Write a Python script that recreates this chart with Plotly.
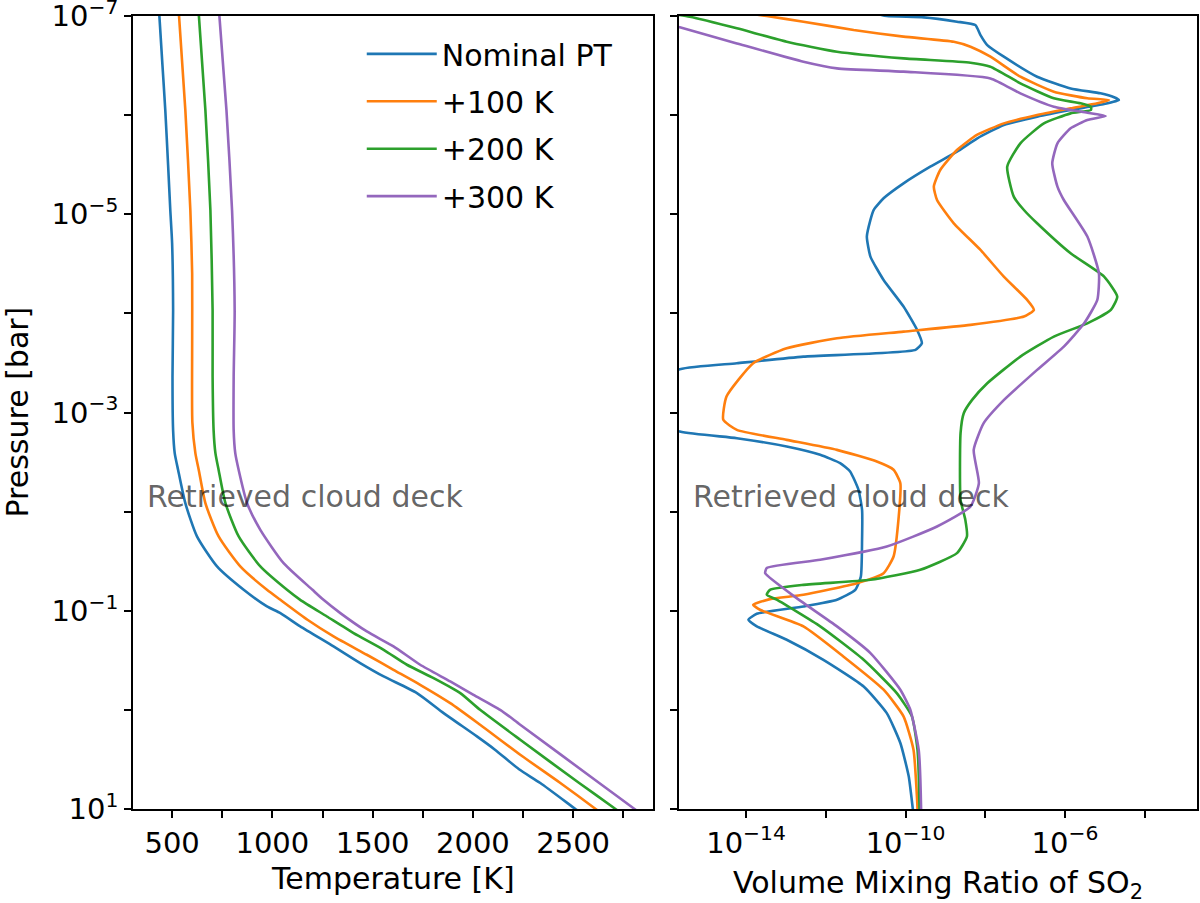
import numpy as np
import plotly.graph_objects as go

# ---------------- data ----------------
series_names = ["Nominal PT", "+100 K", "+200 K", "+300 K"]
colors = ["#1f77b4", "#ff7f0e", "#2ca02c", "#9467bd"]

# Left panel: temperature profiles (log10 pressure [bar], temperature [K])
logp_T_nominal = [-7.05, -6.5, -6.05, -5.5, -5.04, -4.71, -4.03, -3.36, -2.82, -2.59, -2.42, -2.085,
                  -1.75, -1.447, -1.211, -1.043, -0.976, -0.842, -0.64, -0.472, -0.337, -0.169,
                  0.033, 0.268, 0.402, 0.6, 0.738, 1.0, 1.02]
T_nominal = [435, 452, 466, 480, 491, 500, 505, 502, 505, 513, 530, 566,
             624, 724, 857, 973, 1040, 1139, 1305, 1438, 1555, 1721,
             1854, 2020, 2110, 2230, 2336, 2511, 2525]

logp_T_100 = [-7.05, -6.05, -5.04, -4.4, -3.7, -2.9, -2.59, -2.42, -2.085, -1.749, -1.447, -1.211,
              -1.11, -0.909, -0.741, -0.556, -0.404, -0.253, -0.068, 0.15, 0.453, 0.738, 1.0, 1.02]
T_100 = [533, 566, 591, 600, 600, 601, 616, 633, 666, 732, 840, 973,
         1040, 1175, 1305, 1471, 1604, 1737, 1887, 2036, 2236, 2436, 2612, 2625]

logp_T_200 = [-7.05, -6.05, -5.04, -4.03, -3.36, -2.82, -2.59, -2.42, -2.085, -1.749, -1.447, -1.211,
              -1.11, -0.942, -0.774, -0.606, -0.455, -0.32, -0.169, 0.0, 0.302, 0.738, 1.0, 1.02]
T_200 = [632, 666, 691, 702, 702, 707, 716, 732, 766, 832, 940, 1073,
         1139, 1272, 1405, 1555, 1671, 1804, 1937, 2036, 2236, 2530, 2711, 2724]

logp_T_300 = [-7.05, -6.05, -5.04, -4.03, -3.36, -2.82, -2.59, -2.42, -2.085, -1.816, -1.48, -1.211,
              -1.11, -0.976, -0.791, -0.64, -0.455, -0.287, -0.152, 0.0, 0.15, 0.738, 1.0, 1.02]
T_300 = [734, 771, 799, 812, 807, 807, 815, 832, 874, 940, 1056, 1200,
         1255, 1339, 1471, 1604, 1737, 1887, 2003, 2136, 2236, 2630, 2806, 2819]

# Right panel: SO2 volume mixing ratio (log10 pressure [bar], log10 VMR)
logp_V_nominal = [-7.03, -7.0, -6.987, -6.943, -6.909, -6.808, -6.707, -6.59, -6.388, -6.27, -6.22, -6.18,
                  -6.153, -6.112, -6.052, -5.985, -5.901, -5.766, -5.632, -5.48, -5.312, -5.161, -5.043,
                  -4.943, -4.775, -4.573, -4.337, -4.069, -3.833, -3.699, -3.632, -3.564, -3.497, -3.437,
                  -3.1, -2.808, -2.741, -2.657, -2.573, -2.489, -2.405, -2.22, -2.018, -1.715, -1.346,
                  -1.211, -1.111, -1.043, -0.969, -0.909, -0.842, -0.707, -0.505, -0.236, 0.033, 0.335,
                  0.671, 0.99, 1.02]
logV_nominal = [-10.8, -10.47, -9.54, -8.71, -8.25, -8.12, -7.95, -7.535, -6.70, -5.86, -5.11, -4.77,
                -4.65, -5.02, -5.86, -6.70, -7.535, -8.20, -8.71, -9.38, -10.05, -10.55, -10.80,
                -10.88, -10.97, -10.88, -10.55, -10.05, -9.71, -9.59, -9.75, -12.56, -14.23, -15.66,
                -17.5, -15.66, -14.23, -12.98, -12.14, -11.64, -11.39, -11.18, -11.09, -11.09, -11.12,
                -11.26, -11.72, -12.56, -13.73, -13.94, -13.73, -12.98, -12.06, -11.05, -10.47, -10.13,
                -9.92, -9.82, -9.81]

logp_V_100 = [-7.03, -7.0, -6.943, -6.859, -6.792, -6.741, -6.691, -6.59, -6.388, -6.237, -6.17, -6.153,
              -6.119, -6.069, -6.001, -5.917, -5.80, -5.648, -5.447, -5.279, -5.144, -4.909, -4.64,
              -4.371, -4.136, -4.035, -3.968, -3.884, -3.816, -3.749, -3.648, -3.497, -3.161, -2.926,
              -2.825, -2.724, -2.623, -2.505, -2.422, -2.287, -1.951, -1.547, -1.379, -1.278, -1.161,
              -1.117, -1.06, -1.01, -0.842, -0.539, -0.203, 0.066, 0.402, 0.99, 1.02]
logV_100 = [-14.0, -13.48, -12.56, -11.30, -10.05, -8.79, -8.37, -7.87, -7.12, -6.28, -5.44, -4.90,
            -5.19, -5.86, -6.70, -7.535, -8.21, -8.71, -9.13, -9.29, -9.21, -8.79, -8.12,
            -7.535, -6.95, -6.78, -7.03, -8.37, -10.05, -11.72, -12.98, -13.82, -14.49, -14.57,
            -14.23, -12.98, -11.72, -10.72, -10.30, -10.13, -10.17, -10.30, -10.55, -11.22, -12.56,
            -13.40, -13.82, -13.65, -12.56, -11.56, -10.55, -10.05, -9.80, -9.70, -9.70]

logp_V_200 = [-7.03, -6.993, -6.876, -6.741, -6.64, -6.573, -6.529, -6.489, -6.321, -6.17, -6.119, -6.085,
              -6.052, -6.018, -5.917, -5.716, -5.48, -5.178, -5.043, -4.909, -4.606, -4.371, -4.169,
              -4.035, -3.9, -3.766, -3.564, -3.295, -3.127, -2.993, -2.791, -2.119, -1.917, -1.749,
              -1.581, -1.413, -1.312, -1.261, -1.211, -1.161, -1.111, -0.842, -0.505, -0.169, 0.066,
              0.402, 0.99, 1.02]
logV_200 = [-16.0, -15.41, -14.23, -12.98, -11.72, -10.05, -8.37, -7.87, -7.12, -6.28, -5.61, -5.35,
            -5.35, -5.86, -6.53, -7.12, -7.45, -7.285, -7.03, -6.70, -5.86, -5.02, -4.69,
            -4.85, -5.44, -6.28, -7.12, -7.95, -8.33, -8.54, -8.62, -8.62, -8.50, -8.46,
            -8.71, -9.63, -10.88, -12.56, -13.40, -13.48, -13.23, -12.14, -11.05, -10.22, -9.84,
            -9.70, -9.65, -9.65]

logp_V_300 = [-6.95, -6.886, -6.724, -6.539, -6.472, -6.439, -6.371, -6.22, -6.085, -6.025, -5.991,
              -5.951, -5.867, -5.716, -5.514, -5.279, -5.144, -4.775, -4.405, -4.136, -3.9, -3.665,
              -3.43, -3.127, -2.892, -2.623, -2.287, -2.052, -1.85, -1.648, -1.514, -1.43, -1.379,
              -1.127, -0.842, -0.573, -0.203, -0.001, 0.402, 0.99, 1.02]
logV_300 = [-16.3, -15.66, -14.23, -12.56, -11.72, -10.05, -7.87, -7.12, -6.28, -5.44, -4.98,
            -5.44, -5.86, -6.19, -6.32, -6.19, -6.03, -5.44, -5.15, -5.19, -5.52, -6.03,
            -6.70, -7.53, -8.04, -8.29, -8.16, -8.37, -9.21, -10.47, -12.14, -13.48, -13.52,
            -12.73, -11.72, -10.88, -10.13, -9.88, -9.67, -9.61, -9.61]

cloud_deck_logp = -2.422
cloud_label = "Retrieved cloud deck"

# ticks
p_tickvals = [1e-7, 1e-6, 1e-5, 1e-4, 1e-3, 1e-2, 1e-1, 1e0, 1e1]
p_ticktext = ["10<sup>\u22127</sup>", "", "10<sup>\u22125</sup>", "", "10<sup>\u22123</sup>", "",
              "10<sup>\u22121</sup>", "", "10<sup>1</sup>"]
T_tickvals = [500, 750, 1000, 1250, 1500, 1750, 2000, 2250, 2500, 2750]
T_ticktext = ["500", "", "1000", "", "1500", "", "2000", "", "2500", ""]
V_tickvals = [1e-14, 1e-12, 1e-10, 1e-8, 1e-6, 1e-4]
V_ticktext = ["10<sup>\u221214</sup>", "", "10<sup>\u221210</sup>", "", "10<sup>\u22126</sup>", ""]

# ---------------- figure ----------------
FONT = "DejaVu Sans"
fig = go.Figure()

T_sets = [(logp_T_nominal, T_nominal), (logp_T_100, T_100), (logp_T_200, T_200), (logp_T_300, T_300)]
V_sets = [(logp_V_nominal, logV_nominal), (logp_V_100, logV_100), (logp_V_200, logV_200), (logp_V_300, logV_300)]

for i, (lp, T) in enumerate(T_sets):
    fig.add_trace(go.Scatter(
        x=T, y=10 ** np.array(lp), mode="lines", name=series_names[i],
        line=dict(color=colors[i], width=2.6, shape="spline", smoothing=0.6),
        legendgroup=series_names[i], xaxis="x", yaxis="y"))
for i, (lp, lv) in enumerate(V_sets):
    fig.add_trace(go.Scatter(
        x=10 ** np.array(lv), y=10 ** np.array(lp), mode="lines", name=series_names[i],
        line=dict(color=colors[i], width=2.6, shape="spline", smoothing=0.5),
        legendgroup=series_names[i], showlegend=False, xaxis="x2", yaxis="y2"))

axis_common = dict(showline=True, mirror=True, linecolor="black", linewidth=1.6,
                   ticks="outside", ticklen=7, tickwidth=1.6, tickcolor="black",
                   showgrid=False, zeroline=False, ticklabeloverflow="allow",
                   automargin=False,
                   tickfont=dict(family=FONT, size=29, color="black"))

y_range = [1.0004, -7.0004]

fig.update_layout(
    width=1200, height=903,
    margin=dict(l=133, r=3, t=16, b=94, autoexpand=False),
    paper_bgcolor="white", plot_bgcolor="white",
    font=dict(family=FONT, size=30, color="black"),
    xaxis=dict(domain=[0, 0.4887], range=[305, 2898], tickmode="array",
               tickvals=T_tickvals, ticktext=T_ticktext, anchor="y", **axis_common),
    xaxis2=dict(domain=[0.5132, 1], type="log", range=[-15.68, -2.69], tickmode="array",
                tickvals=V_tickvals, ticktext=V_ticktext, anchor="y2", **axis_common),
    yaxis=dict(type="log", range=y_range, tickmode="array", tickvals=p_tickvals,
               ticktext=p_ticktext, anchor="x", **axis_common),
    yaxis2=dict(type="log", range=y_range, matches="y", tickmode="array", tickvals=p_tickvals,
                showticklabels=False, anchor="x2", **axis_common),
    legend=dict(x=0.2150, y=0.985, xanchor="left", yanchor="top",
                bgcolor="rgba(0,0,0,0)", borderwidth=0,
                font=dict(family=FONT, size=30, color="black"),
                tracegroupgap=5.4, itemwidth=70),
    showlegend=True,
)

# cloud deck lines
for xr, yr in [("x domain", "y"), ("x2 domain", "y2")]:
    fig.add_shape(type="line", xref=xr, yref=yr, x0=0, x1=1,
                  y0=cloud_deck_logp, y1=cloud_deck_logp,
                  line=dict(color="#808080", width=3), layer="above")
    fig.add_annotation(xref=xr, yref=yr, x=0, xshift=12, xanchor="left",
                       y=cloud_deck_logp + 0.27, yanchor="middle", showarrow=False,
                       text=cloud_label,
                       font=dict(family=FONT, size=30, color="rgba(0,0,0,0.62)"))

# axis titles
fig.add_annotation(xref="paper", yref="paper", x=0.24435, xanchor="center", y=0, yanchor="top",
                   yshift=-50, showarrow=False, text="Temperature [K]",
                   font=dict(family=FONT, size=30, color="black"))
fig.add_annotation(xref="paper", yref="paper", x=0.7566, xanchor="center", y=0, yanchor="top",
                   yshift=-54, showarrow=False, text="Volume Mixing Ratio of SO<sub>2</sub>",
                   font=dict(family=FONT, size=30, color="black"))
fig.add_annotation(xref="paper", yref="paper", x=0, xshift=-116, xanchor="center",
                   y=0.5, yanchor="middle", textangle=-90, showarrow=False,
                   text="Pressure [bar]", font=dict(family=FONT, size=30, color="black"))

fig.write_html("out.html")
